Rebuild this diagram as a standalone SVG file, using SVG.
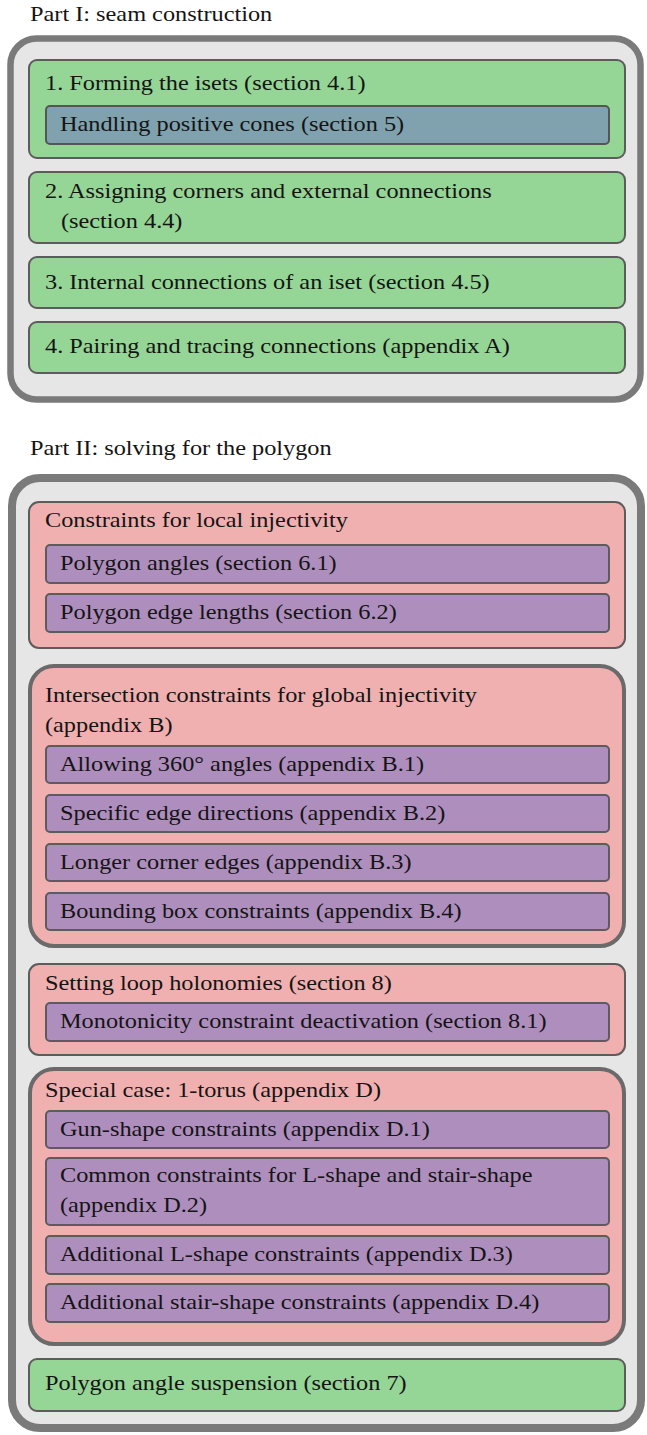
<svg xmlns="http://www.w3.org/2000/svg" width="647" height="1435" viewBox="0 0 647 1435">
<style>
.t{font-family:"Liberation Serif","Times New Roman",serif;font-size:22px;fill:#141414;transform-box:fill-box;transform-origin:0 0;transform:scaleX(1.105)}
.outer{fill:#e6e6e6;stroke:#7a7a7a}
.green{fill:#95d595;stroke:#5c5c5c;stroke-width:2}
.blue{fill:#80a1ae;stroke:#555;stroke-width:2}
.pink{fill:#f0b0b0;stroke:#5c5c5c;stroke-width:2}
.pinkT{fill:#f0b0b0;stroke:#6a6a6a;stroke-width:4}
.purple{fill:#ae8ebd;stroke:#5e5a5e;stroke-width:2}
</style>
<rect width="647" height="1435" fill="#ffffff"/>
<text class="t" x="30" y="21">Part I: seam construction</text>
<g id="part1">
<rect class="outer" x="10.5" y="38.5" width="630" height="361" rx="26" stroke-width="6.5"/>
<g id="n1">
<rect class="green" x="29" y="60" width="596" height="98" rx="8"/>
<text class="t" x="45" y="90">1. Forming the isets (section 4.1)</text>
</g>
<g id="n1a">
<rect class="blue" x="46" y="106" width="563" height="38" rx="4"/>
<text class="t" x="60" y="131">Handling positive cones (section 5)</text>
</g>
<g id="n2">
<rect class="green" x="29" y="172" width="596" height="71" rx="8"/>
<text class="t" x="45" y="198">2. Assigning corners and external connections</text>
<text class="t" x="61" y="228">(section 4.4)</text>
</g>
<g id="n3">
<rect class="green" x="29" y="257" width="596" height="51" rx="8"/>
<text class="t" x="45" y="289">3. Internal connections of an iset (section 4.5)</text>
</g>
<g id="n4">
<rect class="green" x="29" y="322" width="596" height="51" rx="8"/>
<text class="t" x="45" y="353">4. Pairing and tracing connections (appendix A)</text>
</g>
</g>
<text class="t" x="30" y="455">Part II: solving for the polygon</text>
<g id="part2">
<rect class="outer" x="12" y="478" width="629" height="950" rx="28" stroke-width="8"/>
<g id="local">
<rect class="pink" x="29" y="502" width="596" height="146" rx="10"/>
<text class="t" x="45" y="527">Constraints for local injectivity</text>
</g>
<g id="angles">
<rect class="purple" x="46" y="545" width="563" height="38" rx="4"/>
<text class="t" x="60" y="570">Polygon angles (section 6.1)</text>
</g>
<g id="edges">
<rect class="purple" x="46" y="594" width="563" height="38" rx="4"/>
<text class="t" x="60" y="619">Polygon edge lengths (section 6.2)</text>
</g>
<g id="global">
<rect class="pinkT" x="30" y="666" width="594" height="280" rx="24"/>
<text class="t" x="45" y="702">Intersection constraints for global injectivity</text>
<text class="t" x="45" y="732">(appendix B)</text>
</g>
<g id="b1">
<rect class="purple" x="46" y="746" width="563" height="37" rx="4"/>
<text class="t" x="60" y="771">Allowing 360° angles (appendix B.1)</text>
</g>
<g id="b2">
<rect class="purple" x="46" y="795" width="563" height="37" rx="4"/>
<text class="t" x="60" y="820">Specific edge directions (appendix B.2)</text>
</g>
<g id="b3">
<rect class="purple" x="46" y="844" width="563" height="37" rx="4"/>
<text class="t" x="60" y="869">Longer corner edges (appendix B.3)</text>
</g>
<g id="b4">
<rect class="purple" x="46" y="893" width="563" height="37" rx="4"/>
<text class="t" x="60" y="918">Bounding box constraints (appendix B.4)</text>
</g>
<g id="holonomy">
<rect class="pink" x="29" y="964" width="596" height="91" rx="10"/>
<text class="t" x="45" y="990">Setting loop holonomies (section 8)</text>
</g>
<g id="mono">
<rect class="purple" x="46" y="1003" width="563" height="38" rx="4"/>
<text class="t" x="60" y="1028">Monotonicity constraint deactivation (section 8.1)</text>
</g>
<g id="torus">
<rect class="pinkT" x="30" y="1069" width="594" height="275" rx="24"/>
<text class="t" x="45" y="1097">Special case: 1-torus (appendix D)</text>
</g>
<g id="d1">
<rect class="purple" x="46" y="1111" width="563" height="37" rx="4"/>
<text class="t" x="60" y="1136">Gun-shape constraints (appendix D.1)</text>
</g>
<g id="d2">
<rect class="purple" x="46" y="1158" width="563" height="67" rx="4"/>
<text class="t" x="60" y="1182">Common constraints for L-shape and stair-shape</text>
<text class="t" x="60" y="1212">(appendix D.2)</text>
</g>
<g id="d3">
<rect class="purple" x="46" y="1236" width="563" height="38" rx="4"/>
<text class="t" x="60" y="1261">Additional L-shape constraints (appendix D.3)</text>
</g>
<g id="d4">
<rect class="purple" x="46" y="1284" width="563" height="38" rx="4"/>
<text class="t" x="60" y="1309">Additional stair-shape constraints (appendix D.4)</text>
</g>
<g id="suspension">
<rect class="green" x="29" y="1359" width="596" height="52" rx="8"/>
<text class="t" x="45" y="1390">Polygon angle suspension (section 7)</text>
</g>
</g>
<g id="connectors"/>
</svg>
